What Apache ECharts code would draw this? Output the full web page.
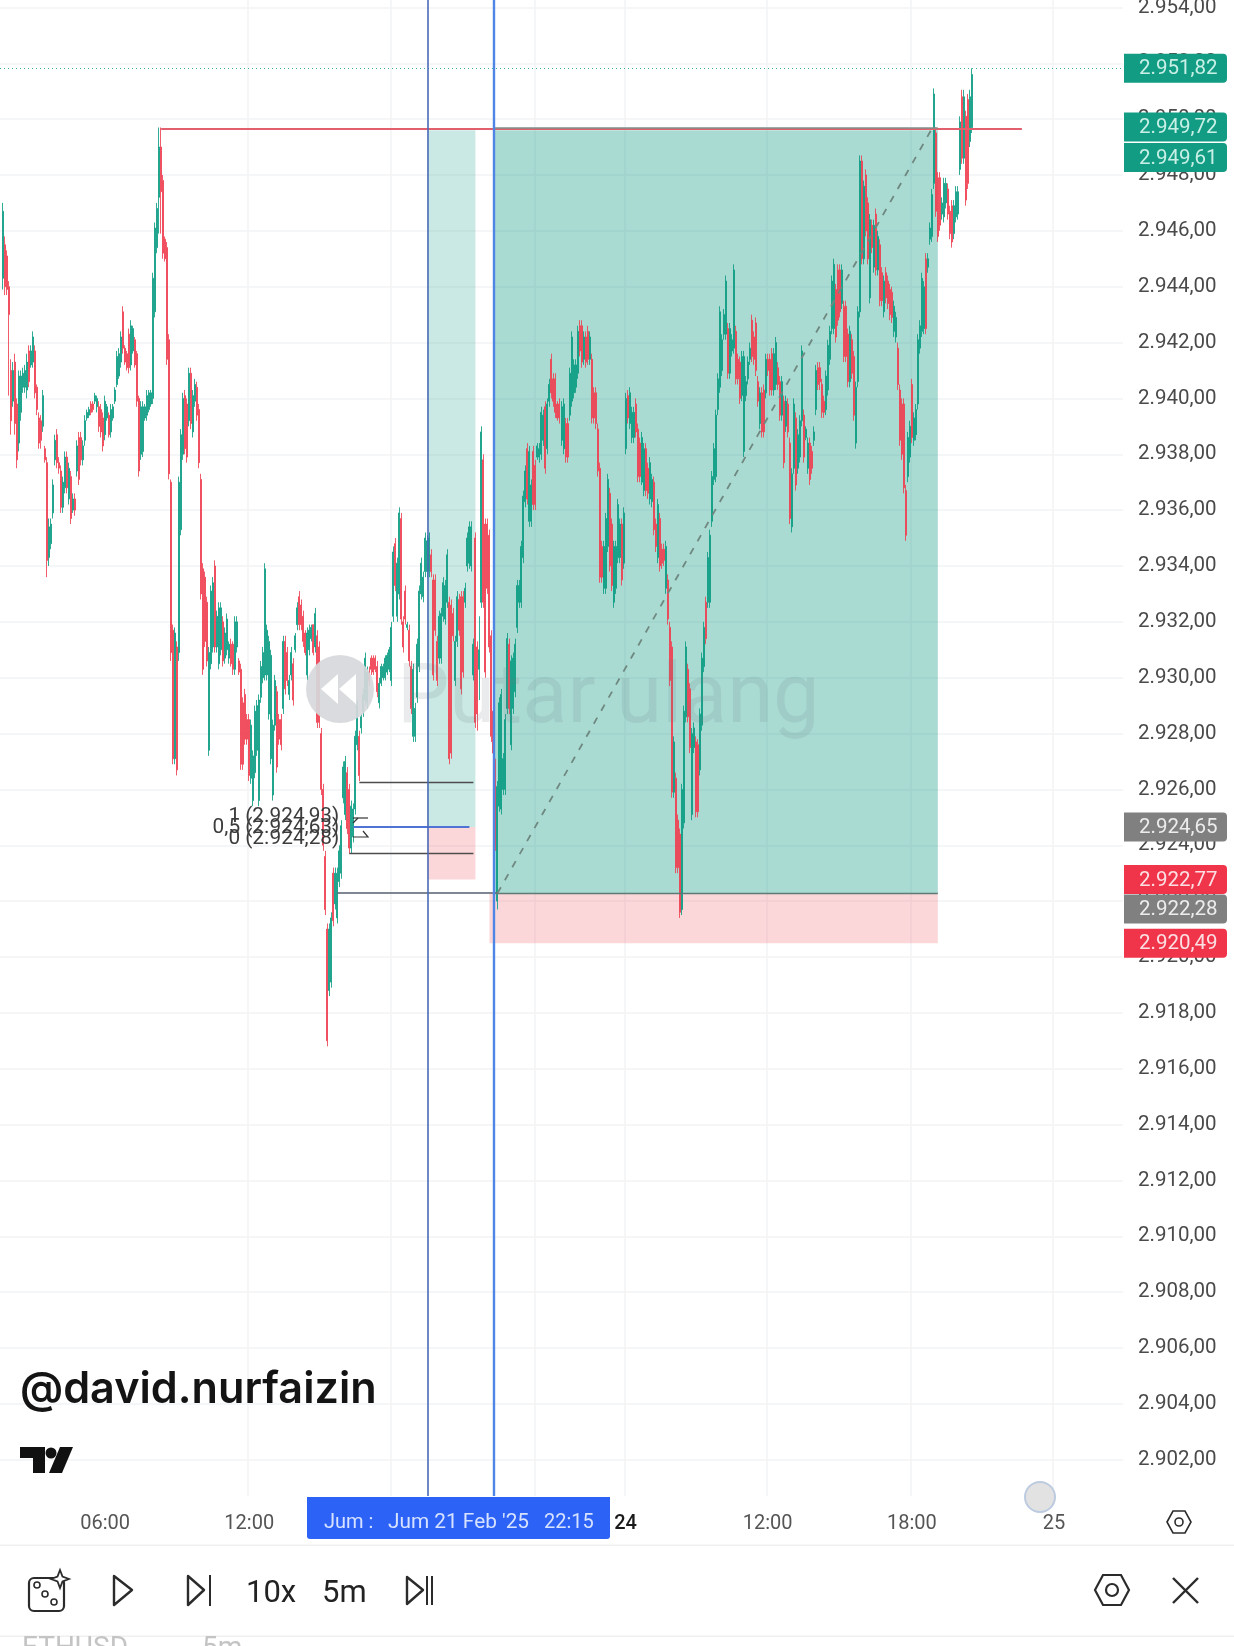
<!DOCTYPE html>
<html>
<head>
<meta charset="utf-8">
<style>html,body{margin:0;padding:0;background:#fff}#c{width:1234px;height:1646px}</style>
<script src="https://cdn.jsdelivr.net/npm/echarts@6/dist/echarts.min.js"></script>
</head>
<body>
<div id="c"></div>
<script>
// candle values: [open, close, low, high]
const barsMorning = [
[2944.3,2946.7,2943.9,2947],[2945.5,2944,2943.7,2945.8],[2945.1,2943.9,2943.7,2945.3],[2944,2943,2940.1,2944.2],[2941,2939.2,2938.7,2941.4],[2939.9,2941,2939.7,2941.3],[2941.3,2939.1,2938.7,2941.6],[2939.8,2937.8,2937.5,2940],[2938.4,2940.8,2938.1,2941],[2939.5,2940.8,2939.2,2941],
[2940.4,2940.9,2940.2,2941.1],[2940.4,2941,2940.2,2941.2],[2940.3,2941.3,2940,2941.6],[2941.7,2940.6,2940.4,2941.9],[2941.2,2941.7,2941.1,2941.9],[2941.3,2942.2,2941.1,2942.4],[2941.7,2940.2,2940,2941.9],[2940.4,2939.6,2939.4,2940.5],[2939.3,2938.4,2938.2,2939.5],[2939.2,2938.5,2938.2,2939.4],
[2939,2940.1,2938.8,2940.3],[2938.2,2937.8,2937.7,2938.3],[2937.7,2934.2,2933.6,2937.9],[2934.3,2935.4,2934,2935.7],[2934.8,2935.5,2934.6,2935.7],[2935.9,2936.9,2935.7,2937.1],[2937.8,2938.5,2937.6,2938.7],[2938.7,2937.7,2937.5,2938.9],[2937.7,2937.5,2937.3,2937.9],[2937.4,2936.1,2935.9,2937.6],
[2936.1,2937,2935.9,2937.2],[2936.8,2937.9,2936.6,2938.1],[2937.9,2936.8,2936.6,2938.1],[2936.4,2937.5,2936.2,2937.7],[2937.2,2935.7,2935.5,2937.4],[2936,2936.4,2935.9,2936.6],[2936.4,2936,2935.8,2936.6],[2937.4,2938.3,2937.2,2938.5],[2938.6,2937.1,2936.9,2938.8],[2938.6,2937.8,2937.6,2938.8],
[2937.8,2938.3,2937.6,2938.5],[2938.5,2939.2,2938.3,2939.4],[2939.3,2939.5,2939.2,2939.6],[2939.4,2939.6,2939.3,2939.7],[2939.8,2939.5,2939.4,2939.9],[2939.8,2939.6,2939.5,2939.9],[2939.9,2940.1,2939.8,2940.2],[2939.7,2940,2939.5,2940.1],[2939.7,2939,2938.8,2939.9],[2939.6,2938.8,2938.6,2939.8],
[2939.3,2938.3,2938.1,2939.5],[2938.7,2939.9,2938.5,2940.1],[2939.3,2939.7,2939.2,2939.8],[2939.4,2938.7,2938.6,2939.5],[2938.8,2939.6,2938.6,2939.8],[2939.3,2939.7,2939.2,2939.8],[2939.9,2940.3,2939.8,2940.4],[2940.5,2941.5,2940.4,2941.7],[2940.8,2941.6,2940.7,2941.8],[2941.3,2942.2,2941.1,2942.4],
[2943.1,2941.8,2941.6,2943.3],[2941.8,2941.3,2941.2,2941.9],[2941.6,2941.1,2941,2941.7],[2942.3,2941.1,2940.9,2942.5],[2941.2,2942.6,2941,2942.8],[2941.7,2942.5,2941.6,2942.6],[2942.1,2941.2,2941.1,2942.2],[2941.6,2939.9,2939.7,2941.7],[2940,2937.4,2937.2,2940.1],[2938,2939.7,2937.8,2939.9],
[2938.1,2939.7,2937.9,2939.9],[2939.3,2939.7,2939.2,2939.8],[2939.4,2940.1,2939.2,2940.3],[2939.6,2940.2,2939.5,2940.3],[2939.8,2940.2,2939.7,2940.3],[2940,2944.3,2939.8,2944.5],[2943.1,2946.1,2942.9,2946.3],[2945.4,2946.8,2945.2,2947],[2947.2,2949,2945.9,2949.7],[2949,2947.4,2945.9,2949.7],
[2947.8,2945.2,2945,2948],[2945.7,2945,2944.9,2945.8],[2945.4,2941.4,2941.2,2945.6],[2942.1,2937.3,2937.1,2942.3],[2937,2930.9,2930.6,2937.1]
];
const barsMidday = [
[2931.7,2927.1,2926.9,2931.9],[2927.1,2931.6,2926.9,2931.8],[2931.1,2926.7,2926.5,2931.3],[2930.9,2937,2930.6,2937.2],[2935.3,2938.7,2935.1,2938.9],[2938,2940,2937.8,2940.2],[2940.1,2938.2,2938,2940.3],[2939.8,2937.9,2937.7,2940],[2939.2,2940.9,2939,2941.1],[2940.9,2939.1,2938.9,2941.1],
[2938.8,2940.1,2938.6,2940.3],[2939.9,2940.5,2939.7,2940.7],[2940.4,2939.4,2939.2,2940.6],[2939.6,2937.7,2937.5,2939.8],[2937.1,2933,2932.8,2937.3],[2933.9,2930.3,2930.1,2934.1],[2933.6,2931.3,2931.1,2933.8],[2932.7,2930.6,2930.4,2932.9],[2927.4,2930.9,2927.2,2931.1],[2930.5,2933.1,2930.3,2933.3],
[2931.1,2933.4,2930.9,2933.6],[2934,2931.1,2930.9,2934.2],[2931.1,2932.2,2930.9,2932.4],[2930.5,2932.5,2930.3,2932.7],[2931,2932.5,2930.8,2932.7],[2932,2930.6,2930.4,2932.2],[2930.7,2931.6,2930.5,2931.8],[2931,2932.1,2930.8,2932.3],[2930.7,2931.2,2930.5,2931.3],[2931.2,2930.5,2930.4,2931.4],
[2931.2,2930.3,2930.1,2931.3],[2930.3,2932,2930.1,2932.2],[2931.1,2932,2930.9,2932.2],[2930.6,2930.2,2930.1,2930.7],[2930.3,2926.9,2926.7,2930.5],[2929.1,2926.9,2926.7,2929.3],[2929.4,2927.8,2927.6,2929.6],[2928.5,2927.8,2927.6,2928.7],[2928.5,2926.5,2926.3,2928.7],[2926.4,2928.3,2926.2,2928.5],
[2925.6,2927.2,2925.4,2927.4],[2926.6,2928.8,2926.4,2929],[2927.4,2929,2927.2,2929.2],[2925.6,2929.2,2925.4,2929.4],[2929.3,2930.4,2929.1,2930.6],[2930,2930.9,2929.8,2931.1],[2930.1,2933.9,2929.9,2934.1],[2930.1,2931.7,2929.9,2931.9],[2928.7,2931.3,2928.5,2931.5],[2927.1,2930.8,2926.9,2931],
[2925.8,2928.3,2925.6,2928.5],[2928.3,2929.9,2928.1,2930.1],[2929.5,2926.8,2926.6,2929.7],[2928.5,2927.8,2927.6,2928.7],[2928.5,2927.6,2927.4,2928.7],[2928.9,2931.3,2928.7,2931.5],[2931.3,2929.6,2929.4,2931.5],[2930.9,2929.9,2929.7,2931.1],[2929.4,2929.9,2929.2,2930.1],[2930.1,2930.9,2929.9,2931.1],
[2930.5,2929.2,2929,2930.7],[2931,2931.5,2930.9,2931.6],[2931.9,2932.5,2931.7,2932.7],[2932.9,2931.9,2931.7,2933.1],[2932.6,2931.9,2931.7,2932.8],[2932.2,2931.3,2931.1,2932.4],[2931.6,2930.9,2930.8,2931.7],[2930.1,2931.6,2929.9,2931.8],[2931,2931.7,2930.8,2931.9],[2931.4,2931.8,2931.3,2931.9],
[2931.9,2930.9,2930.8,2931.9],[2931.1,2932.3,2930.9,2932.5],[2931.5,2928.4,2928.2,2931.7],[2931.1,2928.4,2928.2,2931.3],[2928,2926,2925.8,2928.2],[2926,2924,2923.8,2926.2],[2923.6,2921.7,2921.5,2923.8],[2921,2917,2916.8,2921.2],[2918.8,2921,2918.6,2921.2],[2919.1,2921.4,2918.9,2921.6],
[2923,2921.3,2921.1,2923.2],[2921.9,2923,2921.7,2923.2],[2921.4,2923,2921.2,2923.2],[2922.7,2923.8,2922.5,2924],[2923,2924.7,2922.8,2924.9],[2925.7,2926.8,2925.5,2927],[2925.1,2927,2924.9,2927.2],[2926.6,2924.6,2924.4,2926.8],[2926,2923.9,2923.7,2926.2],[2923.9,2925.4,2923.7,2925.6],
[2924.3,2925.3,2924.1,2925.5],[2925.3,2927.9,2925.1,2928.1],[2927.6,2929,2927.4,2929.2],[2927.9,2926.5,2926.3,2928.1],[2928.2,2928.6,2928,2928.7],[2928.8,2929.4,2928.6,2929.6],[2929.2,2930.7,2929,2930.9],[2929.1,2930.2,2928.9,2930.4],[2930.2,2929.9,2929.7,2930.4],[2930.7,2930.3,2930.1,2930.8],
[2930.7,2930.2,2930.1,2930.8],[2930.7,2930.3,2930.2,2930.8],[2930.4,2929.5,2929.3,2930.6],[2929.1,2929.8,2928.9,2930],[2929.8,2930.4,2929.7,2930.5],[2930,2930.4,2929.9,2930.5],[2930,2930.7,2929.9,2930.8],[2930.2,2930.8,2930.1,2930.9],[2930.3,2931,2930.2,2931.1],[2929.9,2931.8,2929.7,2932],
[2932.2,2934.5,2932,2934.7],[2934.8,2933.3,2933.1,2935],[2932.2,2934.1,2932,2934.3],[2933,2935.9,2932.8,2936.1],[2935.7,2932.1,2931.9,2935.9],[2932,2931.1,2930.9,2932.2],[2933.1,2932.1,2931.9,2933.3],[2931.8,2931.9,2931.7,2932],[2931.7,2930.6,2930.4,2931.9],[2930.4,2928.9,2928.7,2930.6]
];
const barsEvening = [
[2927.9,2930.3,2927.7,2930.5],[2927.9,2928.9,2927.7,2929.1],[2929.3,2931.2,2929.1,2931.4],[2930.4,2933.1,2930.2,2933.3],[2933,2934.1,2932.8,2934.3],[2932.9,2933.6,2932.7,2933.8],[2933.8,2935,2933.6,2935.2],[2933.8,2934.9,2933.6,2935.1],[2933.8,2935,2933.6,2935.2],[2934.4,2933.8,2933.6,2934.6],
[2933.5,2930.1,2929.9,2933.7],[2933.5,2931.7,2931.5,2933.7],[2931.3,2929.9,2929.7,2931.5],[2930.7,2932.2,2930.5,2932.4],[2930.7,2932.3,2930.5,2932.5],[2932.2,2933.4,2932,2933.6],[2932.1,2933.3,2931.9,2933.5],[2932.7,2934.4,2932.5,2934.6],[2932.7,2927.1,2926.9,2932.9],[2932.6,2927.3,2927.1,2932.8],
[2932.3,2931.5,2931.3,2932.5],[2929.9,2931.3,2929.7,2931.5],[2931.3,2932.9,2931.1,2933.1],[2932.8,2931.7,2931.5,2933],[2932.9,2929.6,2929.4,2933.1],[2932.9,2930.2,2930,2933.1],[2932.7,2933.2,2932.5,2933.4],[2934,2935,2933.8,2935.2],[2934.1,2935.4,2933.9,2935.6],[2934,2935.4,2933.8,2935.6],
[2930.1,2931.2,2929.9,2931.4],[2935,2928.4,2928.2,2935.2],[2931.1,2928.7,2928.1,2931.3],[2930.3,2931,2929.2,2932.2],[2932.7,2938.8,2932.5,2939],[2937.8,2932.7,2932.5,2938],[2935.5,2930.2,2930,2935.7],[2935.5,2933.2,2933,2935.7],[2935.1,2931.1,2930.9,2935.3],[2931.5,2927.9,2927.7,2931.7],
[2928.8,2927.3,2927.1,2929],[2926.9,2924,2923.8,2927.1],[2922,2926.1,2921.7,2926.3],[2925.4,2929.1,2925.2,2929.3],[2925.3,2929.4,2925.1,2929.6],[2926,2927.1,2925.8,2927.3],[2926,2928.5,2925.8,2928.7],[2928.9,2931.4,2928.7,2931.6],[2931.2,2928.9,2928.7,2931.4],[2927.6,2930.6,2927.4,2930.8],
[2928.9,2930.7,2928.7,2930.9],[2929.5,2931.2,2929.3,2931.4],[2931.8,2933.3,2931.6,2933.5],[2932.7,2933.3,2932.5,2933.5],[2932.7,2934.7,2932.5,2934.9],[2934.3,2936.5,2934.1,2936.7],[2936.3,2937.4,2936.1,2937.6],[2938.2,2936.4,2936.2,2938.4],[2935.6,2938.1,2935.4,2938.3],[2935.6,2936.9,2935.4,2937.1],
[2938.1,2936.2,2936,2938.3],[2937.6,2936.2,2936,2937.8],[2937.9,2938.3,2937.8,2938.4],[2937.9,2938.2,2937.7,2938.4],[2938,2939.5,2937.8,2939.7],[2938.5,2939.4,2938.3,2939.6],[2939.7,2937.5,2937.3,2939.9],[2938.2,2939.8,2938,2940],[2939.9,2940.5,2939.7,2940.7],[2941.4,2940.2,2940,2941.6],
[2940.7,2939.9,2939.7,2940.9],[2940.7,2939.5,2939.3,2940.9],[2939.8,2939.3,2939.2,2939.9],[2939.8,2939.3,2939.1,2940],[2938.5,2939.7,2938.3,2939.9],[2938.2,2939.8,2938,2940],[2939.1,2937.9,2937.7,2939.3],[2939.1,2937.9,2937.7,2939.3],[2939.4,2940.9,2939.2,2941.1],[2939.9,2942.2,2939.7,2942.4],
[2940.2,2941.2,2940,2941.4],[2940.4,2941.2,2940.2,2941.4],[2940.9,2942.4,2940.7,2942.6],[2942.6,2941.7,2941.5,2942.8],[2942.6,2941.3,2941.1,2942.8],[2941.4,2942.2,2941.2,2942.4],[2942.2,2941.3,2941.1,2942.4],[2942.4,2941.4,2941.2,2942.6],[2941.4,2942.2,2941.2,2942.4],[2941.4,2939.3,2939.1,2941.6],
[2940.2,2939.3,2939.1,2940.4],[2940.2,2939.1,2938.9,2940.4],[2938.9,2937.4,2937.2,2939.1],[2937.5,2933.6,2933.4,2937.7],[2934.7,2933.6,2933.4,2934.9],[2933.2,2934.7,2933,2934.9],[2933.2,2935.7,2933,2935.9],[2934.7,2937.1,2934.5,2937.3],[2936.6,2934,2933.8,2936.8],[2935.5,2933.3,2933.1,2935.7],
[2932.7,2934.7,2932.5,2934.9],[2933.2,2934.7,2933,2934.9],[2934.3,2936.2,2934.1,2936.4],[2934.3,2935.5,2934.1,2935.7],[2935.5,2933.5,2933.3,2935.7],[2934.1,2935.9,2933.9,2936.1],[2938.2,2940,2938,2940.2],[2940.1,2939.3,2939.1,2940.3],[2939.1,2940.2,2938.9,2940.4],[2938.6,2939.5,2938.4,2939.7]
];
const barsNight = [
[2938.6,2939.5,2938.4,2939.7],[2939.8,2938.8,2938.6,2940],[2938.9,2937.2,2937,2939.1],[2938.4,2937.2,2937,2938.6],[2937,2938.6,2936.9,2938.8],[2936.7,2938.2,2936.5,2938.4],[2938.2,2936.7,2936.5,2938.4],[2937.5,2936.6,2936.4,2937.7],[2936.4,2937.7,2936.2,2937.9],[2936.3,2937.1,2936.1,2937.3],
[2937,2935.3,2935.1,2937.2],[2935.5,2934.7,2934.5,2935.7],[2934.3,2936.2,2934.1,2936.4],[2935.7,2934,2933.8,2935.9],[2934.6,2934.1,2933.9,2934.8],[2934.6,2934.2,2934,2934.8],[2933.2,2934.7,2933,2934.9],[2933.5,2932.1,2931.9,2933.7],[2931.8,2929.9,2929.7,2932],[2931.1,2925.9,2925.7,2931.3],
[2925.9,2927.7,2925.7,2927.9],[2926.4,2923.2,2923,2926.6],[2924.9,2923.2,2923,2925.1],[2924.4,2921.6,2921.4,2924.6],[2921.7,2926,2921.5,2926.2],[2924.8,2928.8,2924.6,2929],[2928.6,2931.1,2928.4,2931.3],[2930.3,2928.6,2928.4,2930.5],[2929.6,2927.5,2927.3,2929.8],[2925.1,2928,2924.9,2928.2],
[2927.5,2928.2,2927.3,2928.4],[2927.7,2925.2,2925,2927.9],[2927.6,2925.2,2925,2927.8],[2926.7,2928.7,2926.5,2928.9],[2928.3,2930.7,2928.1,2930.9],[2930.4,2931.8,2930.2,2932],[2932.7,2931.4,2931.2,2932.9],[2932.7,2934.3,2932.5,2934.5],[2932.7,2935.1,2932.5,2935.3],[2935.6,2937.2,2935.4,2937.4],
[2937.1,2938.2,2936.9,2938.4],[2937.2,2939.4,2937,2939.6],[2939.6,2940.7,2939.4,2940.9],[2940.4,2943.1,2940.2,2943.3],[2941,2942.1,2940.8,2942.3],[2942.3,2943,2942.1,2943.2],[2942.3,2944.2,2942.1,2944.4],[2942.5,2940.9,2940.7,2942.7],[2940.9,2942.5,2940.7,2942.7],[2941.7,2942.1,2941.5,2942.3],
[2941.8,2944.6,2941.6,2944.8],[2942.4,2940.7,2940.5,2942.6],[2941.4,2940.7,2940.5,2941.6],[2941.3,2940,2939.8,2941.5],[2940.1,2941.5,2939.9,2941.7],[2938.1,2941.5,2937.9,2941.7],[2940.1,2940.6,2939.9,2940.8],[2940.7,2941.3,2940.5,2941.5],[2941.4,2941.8,2941.2,2942],[2942.8,2941.5,2941.3,2943],
[2942.2,2941.4,2941.2,2942.4],[2942.7,2941,2940.8,2942.9],[2940.6,2939.9,2939.7,2940.8],[2939.1,2940.2,2938.9,2940.4],[2940.2,2938.8,2938.6,2940.4],[2940.3,2938.8,2938.6,2940.5],[2940.2,2941.4,2940,2941.6],[2941.4,2941,2940.8,2941.6],[2941.4,2940.3,2940.1,2941.6]
];
const barsLate = [
[2941.6,2940.3,2940.1,2941.8],[2940.3,2941.6,2940.1,2941.8],[2940.5,2942,2940.3,2942.2],[2941.1,2940.5,2940.3,2941.3],[2940.6,2939.4,2939.2,2940.8],[2939.4,2940.6,2939.2,2940.8],[2939.9,2937.7,2937.5,2940.1],[2939,2939.9,2938.8,2940.1],[2939.8,2938.8,2938.6,2940],[2938.4,2935.7,2935.5,2938.6],
[2935.4,2937.3,2935.2,2937.5],[2937.5,2939.8,2937.3,2940],[2939.3,2936.9,2936.7,2939.5],[2937.5,2938.7,2937.3,2938.9],[2937.9,2939.2,2937.7,2939.4],[2939.2,2941.7,2939,2941.9],[2939.4,2937.9,2937.7,2939.6],[2938.6,2938.9,2938.5,2939],[2937.5,2938.4,2937.3,2938.6],[2938.4,2937.1,2936.9,2938.6],
[2938.1,2937.5,2937.3,2938.3],[2938.5,2938.8,2938.3,2939],[2939.6,2941,2939.4,2941.2],[2941.1,2940.5,2940.3,2941.3],[2941.1,2940.6,2940.3,2941.3],[2940.5,2939.5,2939.3,2940.7],[2939.9,2939.5,2939.3,2940.1],[2939.6,2940.8,2939.4,2941],[2940.3,2941.9,2940.1,2942.1],[2941.4,2942.4,2941.2,2942.6],
[2942.5,2944.2,2942.3,2944.4],[2942.5,2944.8,2942.3,2945],[2943.9,2942.2,2942,2944.1],[2944.6,2942.8,2942.6,2944.8],[2944.6,2943.1,2942.9,2944.8],[2943.4,2944.6,2943.2,2944.8],[2943.3,2941.5,2941.3,2943.5],[2943.3,2941.5,2941.3,2943.5],[2942.3,2940.6,2940.4,2942.5],[2940.6,2942.4,2940.4,2942.6],
[2942.1,2940.9,2940.7,2942.3],[2941.5,2939.4,2939.2,2941.7],[2938.4,2940.4,2938.2,2940.6],[2940.6,2943.1,2940.4,2943.3],[2943.1,2948.5,2942.9,2948.7],[2948.5,2945,2944.8,2948.7],[2945,2947.6,2944.8,2947.8],[2948,2946,2945.8,2948.2],[2947,2945,2944.8,2947.2],[2943.6,2946.4,2943.4,2946.6],
[2946.2,2945.4,2945.2,2946.4],[2944.7,2946.2,2944.5,2946.4],[2946.6,2944.6,2944.4,2946.8],[2944.6,2945.8,2944.4,2946],[2945.5,2943.5,2943.3,2945.7],[2944.5,2943.5,2943.3,2944.7],[2943.1,2944.2,2942.9,2944.4],[2944.5,2943.6,2943.4,2944.7],[2944.2,2943.4,2943.2,2944.4],[2943.9,2943,2942.8,2944.1],
[2943.8,2942.9,2942.7,2944],[2942.4,2943.3,2942.2,2943.5],[2942.2,2942.9,2942,2943.1],[2941.8,2940.5,2940.3,2942],[2940.3,2938.5,2938.3,2940.5],[2939.8,2938,2937.8,2940],[2939.8,2936.8,2936.6,2940],[2936.7,2935.1,2934.9,2936.9],[2937.2,2938.6,2937,2938.8],[2937.9,2939,2937.7,2939.2],
[2940.5,2938.6,2938.4,2940.7],[2938.5,2939.3,2938.3,2939.5],[2938.7,2939.6,2938.5,2939.8],[2939.8,2942.1,2939.6,2942.3],[2941.8,2942.6,2941.6,2942.8],[2942.4,2944.3,2942.2,2944.5],[2942.5,2944,2942.3,2944.2],[2945,2942.5,2942.3,2945.2],[2944.7,2945,2944.5,2945.2],[2945.7,2946.1,2945.5,2946.3],
[2945.8,2947.3,2945.6,2947.5],[2947.7,2950.9,2947.5,2951.1],[2949.5,2946.7,2946.5,2949.7],[2947.9,2945.8,2945.6,2948.1],[2947.9,2946.2,2946,2948.1],[2946.6,2947,2946.4,2947.2],[2946.5,2947.7,2946.3,2947.9],[2947,2947.7,2946.8,2947.9],[2947.5,2946.6,2946.4,2947.7],[2946.7,2945.9,2945.7,2946.9],
[2946.9,2945.6,2945.4,2947.1],[2945.9,2946.9,2945.7,2947.1],[2946.5,2947.4,2946.3,2947.6],[2946.6,2947.4,2946.4,2947.6],[2948.2,2949.9,2948,2950.1],[2950.8,2948.6,2948.4,2951.05],[2948.6,2950.8,2948.4,2951.05],[2950.1,2947.1,2946.9,2950.3],[2950.7,2947.7,2947.5,2950.9],[2949.2,2950.8,2949,2951.05],
[2949.7,2951.6,2949.5,2951.82]
];

const yTickValues = [2902,2904,2906,2908,2910,2912,2914,2916,2918,2920,2922,2924,2926,2928,2930,2932,2934,2936,2938,2940,2942,2944,2946,2948,2950,2952,2954];
const slotCount = 561;
const gridIndexes = [52,124,195,267,312,383,455,526];
const labelIndexes = [52,124,312,383,455,526];
const tickLabels = ['06:00','12:00','24','12:00','18:00','25'];

// price tags down the right-hand scale
const tagPrices = [2951.82,2949.72,2949.61,2924.65,2922.77,2922.28,2920.49];
const tagAnchors = [2951.82,2949.72,2948.63,2924.65,2922.77,2921.72,2920.49];
const tagColors = ['#129c84','#129c84','#129c84','#808080','#f0344a','#808080','#f0344a'];
const tagTextColors = ['#c9f0e6','#c9f0e6','#c9f0e6','#ececec','#fbdfe2','#ececec','#fbdfe2'];

const fibLabels = ['1 (2.924,93)','0,5 (2.924,63)','0 (2.924,28)'];
const fibPrices = [2925.02,2924.63,2924.24];

// first slot is the sliver of the bar cut off by the left edge
const candles = [['-','-','-','-']].concat(barsMorning, barsMidday, barsEvening, barsNight, barsLate);
const categories = Array.from({length: slotCount}, (_, i) => {
  const k = labelIndexes.indexOf(i);
  return k >= 0 ? tickLabels[k] : String(i);
});
function fmtPrice(v){
  const s = v.toFixed(2).replace('.', ',');
  return s.slice(0, 1) + '.' + s.slice(1);
}

function seg(x1, p1, x2, p2, color, width, type){
  return [{coord:[x1,p1], lineStyle:{color, width, type: type||'solid'}},{coord:[x2,p2]}];
}

const chart = echarts.init(document.getElementById('c'), null, {renderer:'canvas', width:1234, height:1646});
const iconStroke = '#2b2b2b';
chart.setOption({
  animation:false,
  backgroundColor:'#ffffff',
  grid:{left:0, top:0, width:1123, height:1496, containLabel:false, outerBoundsMode:'none'},
  xAxis:{
    type:'category', data:categories, boundaryGap:true,
    axisLine:{show:false}, axisTick:{show:false},
    axisLabel:{
      interval:(i)=>labelIndexes.includes(i), margin:18,
      fontFamily:'Roboto', fontSize:20, color:'#555',
      formatter:(v)=> v==='24' ? '{b|24}' : v,
      rich:{b:{fontFamily:'Roboto', fontSize:20, fontWeight:500, color:'#1a1a1a'}}
    },
    splitLine:{show:true, showMinLine:false, showMaxLine:false, interval:(i)=>gridIndexes.includes(i), lineStyle:{color:'#f2f3f4', width:1.5}}
  },
  yAxis:{
    type:'value', position:'right', min:2900.7, max:2954.265,
    axisLine:{show:false},
    axisTick:{show:false, customValues:yTickValues},
    axisLabel:{customValues:yTickValues, margin:15, fontFamily:'Roboto', fontSize:20.5, color:'#4a4a4a', formatter:fmtPrice, showMinLabel:true, showMaxLabel:true},
    splitLine:{show:true, lineStyle:{color:'#f2f3f4', width:1.5}}
  },
  series:[
    {name:'zones', type:'line', data:[], z:1, silent:true,
     markArea:{silent:true, data:[
       [{xAxis:213, yAxis:2949.6, itemStyle:{color:'rgba(8,153,129,0.21)'}},{xAxis:237, yAxis:2924.65}],
       [{xAxis:213, yAxis:2924.65, itemStyle:{color:'rgba(242,54,69,0.2)'}},{xAxis:237, yAxis:2922.77}],
       [{xAxis:246, yAxis:2949.6, itemStyle:{color:'rgba(8,153,129,0.35)'}},{xAxis:468, yAxis:2922.28}],
       [{xAxis:244, yAxis:2922.28, itemStyle:{color:'rgba(242,54,69,0.2)'}},{xAxis:468, yAxis:2920.49}]
     ]}},
    {name:'price', type:'candlestick', data:candles, z:3, barWidth:1.5, clip:true,
     itemStyle:{color:'#0c9c84', color0:'#ee3f50', borderColor:'#0c9c84', borderColor0:'#ee3f50', borderWidth:1, opacity:0.85}},
    {name:'drawings', type:'line', data:[], z:5, silent:true,
     markLine:{silent:true, symbol:'none', label:{show:false}, animation:false, data:[
       {yAxis:2951.82, lineStyle:{color:'#3fae9c', width:1.2, type:[1,3]}},
       seg(80,2949.65,510,2949.65,'#e2606d',2),
       seg(246,2949.68,468,2949.68,'#7f8f88',1.5),
       seg(179,2926.25,236,2926.25,'#4d4d4d',1.3),
       seg(176,2924.66,234,2924.66,'#4f74d6',1.8),
       seg(174,2923.7,236,2923.7,'#4d4d4d',1.3),
       seg(168,2922.3,248,2922.3,'#54616e',1.5),
       seg(246,2922.28,468,2922.28,'#5f7a74',1.3),
       seg(248,2922.28,465,2949.65,'#6f8880',1.8,[7,8]),
       {xAxis:213, lineStyle:{color:'#4a6bb8', width:1.6, type:'solid'}},
       {xAxis:246, lineStyle:{color:'#4f86e6', width:2.4, type:'solid'}}
     ]}},
    {name:'fib labels', type:'custom', z:6, silent:true, coordinateSystem:'cartesian2d',
     data:fibPrices.map((p,i)=>[169,p,i]),
     encode:{x:0,y:1},
     renderItem:(params,api)=>{
       const pt = api.coord([api.value(0),api.value(1)]);
       return {type:'text', style:{text:fibLabels[api.value(2)], x:pt[0], y:pt[1], align:'right', verticalAlign:'middle', font:'20.8px Roboto', fill:'#3c3c3c'}};
     }},
    {name:'tags', type:'custom', z:9, silent:true, coordinateSystem:'cartesian2d', clip:false,
     data:tagAnchors.map((p,i)=>[0,p,i]),
     encode:{x:0,y:1},
     renderItem:(params,api)=>{
       const y = api.coord([0,api.value(1)])[1];
       const i = api.value(2);
       return {type:'group', children:[
         {type:'rect', shape:{x:1124,y:y-14.5,width:103,height:29,r:[0,4,4,0]}, style:{fill:tagColors[i]}},
         {type:'text', style:{text:fmtPrice(tagPrices[i]), x:1139, y:y+1, verticalAlign:'middle', font:'20.5px Roboto', fill:tagTextColors[i]}}
       ]};
     }}
  ],
  graphic:{elements:[
    // replay watermark
    {type:'circle', z:30, shape:{cx:340,cy:689,r:34}, style:{fill:'rgba(214,216,219,0.92)'}},
    {type:'polygon', z:31, shape:{points:[[338,674],[338,704],[321,689]]}, style:{fill:'#fff'}},
    {type:'polygon', z:31, shape:{points:[[356,674],[356,704],[339,689]]}, style:{fill:'#fff'}},
    {type:'text', z:30, x:397, y:701, style:{text:'Putar ulang', font:'400 83px Roboto', fill:'rgba(110,120,130,0.15)', verticalAlign:'middle'}},
    // bracket marks beside the fib
    {type:'polyline', z:20, shape:{points:[[353,818],[368,818]]}, style:{stroke:'#333',lineWidth:1.2,fill:'none'}},
    {type:'polyline', z:20, shape:{points:[[353,823],[358,818]]}, style:{stroke:'#333',lineWidth:1.2,fill:'none'}},
    {type:'polyline', z:20, shape:{points:[[353,837],[368,837],[363,831]]}, style:{stroke:'#333',lineWidth:1.2,fill:'none'}},
    // handle + logo
    {type:'text', z:30, x:20, y:1390, style:{text:'@david.nurfaizin', font:'600 43.2px Inter', fill:'#141414', verticalAlign:'middle'}},
    {type:'polygon', z:30, shape:{points:[[20,1447],[45,1447],[45,1473],[33,1473],[33,1458],[20,1458]]}, style:{fill:'#111'}},
    {type:'circle', z:30, shape:{cx:51,cy:1453,r:5.5}, style:{fill:'#111'}},
    {type:'polygon', z:30, shape:{points:[[60,1447],[73,1447],[62,1473],[49,1473]]}, style:{fill:'#111'}},
    // crosshair time label
    {type:'rect', z:30, shape:{x:307,y:1497,width:303,height:42,r:[0,0,3,3]}, style:{fill:'#2c62f6'}},
    {type:'text', z:31, x:324, y:1523, style:{text:'Jum :', font:'20px Roboto', fill:'#d6e2ff', verticalAlign:'middle'}},
    {type:'text', z:31, x:388, y:1523, style:{text:"Jum 21 Feb '25", font:'20.8px Roboto', fill:'#d6e2ff', verticalAlign:'middle'}},
    {type:'text', z:31, x:544, y:1523, style:{text:'22:15', font:'20px Roboto', fill:'#d6e2ff', verticalAlign:'middle'}},
    // touch marker
    {type:'circle', z:32, shape:{cx:1040,cy:1497,r:15}, style:{fill:'#e2e2e3', stroke:'#bccbe0', lineWidth:2}},
    // axis settings hex
    {type:'polygon', z:30, shape:{points:[[1167,1522],[1173,1511],[1185,1511],[1191,1522],[1185,1533],[1173,1533]]}, style:{fill:'none',stroke:iconStroke,lineWidth:1.6}},
    {type:'circle', z:30, shape:{cx:1179,cy:1522,r:4}, style:{fill:'none',stroke:iconStroke,lineWidth:1.6}},
    // separators
    {type:'rect', z:30, shape:{x:0,y:1544.5,width:1234,height:1.5}, style:{fill:'#f0f0f1'}},
    {type:'rect', z:30, shape:{x:0,y:1635.5,width:1234,height:1.5}, style:{fill:'#f0f0f1'}},
    // toolbar
    {type:'rect', z:30, shape:{x:29,y:1578,width:35,height:33,r:5}, style:{fill:'#fff',stroke:iconStroke,lineWidth:2.2}},
    {type:'polygon', z:31, shape:{points:[[60,1570],[62.5,1576.5],[69,1579],[62.5,1581.5],[60,1588],[57.5,1581.5],[51,1579],[57.5,1576.5]]}, style:{fill:'#fff',stroke:iconStroke,lineWidth:1.8}},
    {type:'circle', z:31, shape:{cx:37,cy:1585,r:3}, style:{fill:'none',stroke:iconStroke,lineWidth:1.6}},
    {type:'circle', z:31, shape:{cx:45,cy:1594,r:3}, style:{fill:'none',stroke:iconStroke,lineWidth:1.6}},
    {type:'circle', z:31, shape:{cx:54,cy:1602,r:3}, style:{fill:'none',stroke:iconStroke,lineWidth:1.6}},
    {type:'polygon', z:30, shape:{points:[[114,1576],[132,1590],[114,1605]]}, style:{fill:'none',stroke:iconStroke,lineWidth:2.4,lineJoin:'round'}},
    {type:'polygon', z:30, shape:{points:[[188,1576],[204,1590],[188,1605]]}, style:{fill:'none',stroke:iconStroke,lineWidth:2.4,lineJoin:'round'}},
    {type:'rect', z:30, shape:{x:209,y:1575,width:2,height:31}, style:{fill:iconStroke}},
    {type:'text', z:30, x:246, y:1594, style:{text:'10x', font:'31px Roboto', fill:'#222', verticalAlign:'middle'}},
    {type:'text', z:30, x:322, y:1594, style:{text:'5m', font:'31px Roboto', fill:'#222', verticalAlign:'middle'}},
    {type:'polygon', z:30, shape:{points:[[407,1577],[423,1590],[407,1604]]}, style:{fill:'none',stroke:iconStroke,lineWidth:2.4,lineJoin:'round'}},
    {type:'rect', z:30, shape:{x:426,y:1576,width:2,height:29}, style:{fill:iconStroke}},
    {type:'rect', z:30, shape:{x:431,y:1576,width:2,height:29}, style:{fill:iconStroke}},
    {type:'polygon', z:30, shape:{points:[[1095,1590],[1103,1575],[1121,1575],[1129,1590],[1121,1605],[1103,1605]]}, style:{fill:'none',stroke:iconStroke,lineWidth:2.2}},
    {type:'circle', z:30, shape:{cx:1112,cy:1590,r:6}, style:{fill:'none',stroke:iconStroke,lineWidth:2.2}},
    {type:'polyline', z:30, shape:{points:[[1173,1578],[1198,1603]]}, style:{stroke:iconStroke,lineWidth:2.4,fill:'none'}},
    {type:'polyline', z:30, shape:{points:[[1198,1578],[1173,1603]]}, style:{stroke:iconStroke,lineWidth:2.4,fill:'none'}},
    // clipped legend row at the very bottom
    {type:'text', z:30, x:22, y:1649, style:{text:'ETHUSD', font:'28px Roboto', fill:'#c4c4c4', verticalAlign:'middle'}},
    {type:'text', z:30, x:202, y:1649, style:{text:'5m', font:'28px Roboto', fill:'#c4c4c4', verticalAlign:'middle'}}
  ]}
});
</script>
</body>
</html>
